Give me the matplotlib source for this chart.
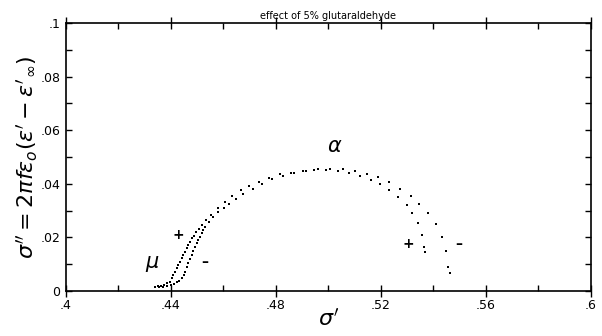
import numpy as np
import matplotlib
matplotlib.use("Agg")
import matplotlib.pyplot as plt
from matplotlib.ticker import MultipleLocator

plt.rcParams['font.family'] = ['Liberation Sans Narrow', 'DejaVu Sans']

# "+" branch (shifted left)
plus_x = [0.4339, 0.4350, 0.4362, 0.4373, 0.4385, 0.4396, 0.4403, 0.4409, 0.4415, 0.4422,
          0.4428, 0.4434, 0.4441, 0.4447, 0.4453, 0.4460, 0.4466, 0.4472, 0.4480, 0.4488,
          0.4497, 0.4507, 0.4518, 0.4533, 0.4554, 0.4578, 0.4606, 0.4631, 0.4667, 0.4698,
          0.4736, 0.4774, 0.4815, 0.4857, 0.4902, 0.4946, 0.4990, 0.5035, 0.5078, 0.5120,
          0.5161, 0.5196, 0.5232, 0.5266, 0.5298, 0.5319, 0.5340, 0.5355, 0.5364, 0.5368]
plus_y = [0.0015, 0.0017, 0.0019, 0.0022, 0.0028, 0.0035, 0.0047, 0.0060, 0.0072, 0.0085,
          0.0097, 0.0109, 0.0122, 0.0134, 0.0147, 0.0159, 0.0172, 0.0184, 0.0196, 0.0207,
          0.0220, 0.0233, 0.0246, 0.0265, 0.0285, 0.0310, 0.0332, 0.0353, 0.0375, 0.0393,
          0.0408, 0.0421, 0.0435, 0.0441, 0.0448, 0.0451, 0.0451, 0.0448, 0.0439, 0.0429,
          0.0414, 0.0399, 0.0377, 0.0350, 0.0321, 0.0290, 0.0253, 0.0209, 0.0163, 0.0144]

# "-" branch (shifted right)
minus_x = [0.4339, 0.4354, 0.4370, 0.4385, 0.4400, 0.4411, 0.4422, 0.4430, 0.4441, 0.4448,
           0.4453, 0.4460, 0.4466, 0.4472, 0.4479, 0.4485, 0.4491, 0.4498, 0.4504, 0.4510,
           0.4517, 0.4523, 0.4530, 0.4543, 0.4560, 0.4580, 0.4602, 0.4622, 0.4648, 0.4676,
           0.4712, 0.4746, 0.4784, 0.4826, 0.4870, 0.4913, 0.4961, 0.5006, 0.5054, 0.5102,
           0.5146, 0.5190, 0.5232, 0.5272, 0.5314, 0.5346, 0.5378, 0.5408, 0.5431, 0.5446,
           0.5456, 0.5463]
minus_y = [0.0015, 0.0013, 0.0014, 0.0017, 0.0021, 0.0025, 0.0032, 0.0039, 0.0047, 0.0060,
           0.0072, 0.0088, 0.0103, 0.0119, 0.0134, 0.0149, 0.0165, 0.0178, 0.0190, 0.0203,
           0.0215, 0.0228, 0.0240, 0.0257, 0.0276, 0.0295, 0.0310, 0.0323, 0.0342, 0.0362,
           0.0382, 0.0398, 0.0417, 0.0430, 0.0439, 0.0448, 0.0454, 0.0456, 0.0454, 0.0448,
           0.0435, 0.0426, 0.0407, 0.0381, 0.0354, 0.0325, 0.0290, 0.0249, 0.0203, 0.0149,
           0.0088, 0.0067]

xticks = [0.4, 0.44, 0.48, 0.52, 0.56, 0.6]
xticklabels = ['.4', '.44', '.48', '.52', '.56', '.6']
yticks = [0, 0.02, 0.04, 0.06, 0.08, 0.1]
yticklabels = ['0', '.02', '.04', '.06', '.08', '.1']

fig = plt.figure(figsize=(6.02, 3.36), dpi=100)
ax = fig.add_axes([0.1096, 0.134, 0.8721, 0.7975])

ax.plot(plus_x, plus_y, 's', color='black', markersize=1.6, markeredgewidth=0)
ax.plot(minus_x, minus_y, 's', color='black', markersize=1.6, markeredgewidth=0)

ax.set_xlim(0.4, 0.6)
ax.set_ylim(0, 0.1)
ax.set_xticks(xticks)
ax.set_xticklabels(xticklabels)
ax.set_yticks(yticks)
ax.set_yticklabels(yticklabels)
ax.xaxis.set_minor_locator(MultipleLocator(0.02))
ax.yaxis.set_minor_locator(MultipleLocator(0.01))
ax.tick_params(axis='x', which='major', direction='inout', length=8, width=1, labelsize=9, pad=2,
               top=True)
ax.tick_params(axis='x', which='minor', direction='in', length=4, width=1, top=True)
ax.tick_params(axis='y', which='major', direction='in', length=4, width=1, labelsize=9, pad=4,
               right=True)
ax.tick_params(axis='y', which='minor', direction='in', length=4, width=1, right=True)
for s in ax.spines.values():
    s.set_linewidth(1.2)

ax.set_title('effect of 5% glutaraldehyde', fontsize=7, pad=3)
ax.set_xlabel(r"$\sigma'$", fontsize=16, labelpad=-3)
ax.set_ylabel(r"$\sigma'' = 2\pi f \varepsilon_o (\varepsilon' - \varepsilon'_\infty)$",
              fontsize=16, labelpad=0)

ax.text(0.5025, 0.0541, r'$\alpha$', fontsize=15, ha='center', va='center')
ax.text(0.4328, 0.0101, r'$\mu$', fontsize=15, ha='center', va='center')
ax.text(0.4427, 0.0209, '+', fontsize=10, ha='center', va='center', fontweight='bold')
ax.text(0.4530, 0.0108, '\u2013', fontsize=10, ha='center', va='center', fontweight='bold')
ax.text(0.5303, 0.0175, '+', fontsize=10, ha='center', va='center', fontweight='bold')
ax.text(0.5498, 0.0175, '\u2013', fontsize=10, ha='center', va='center', fontweight='bold')

fig.savefig('out.png', dpi=100)
